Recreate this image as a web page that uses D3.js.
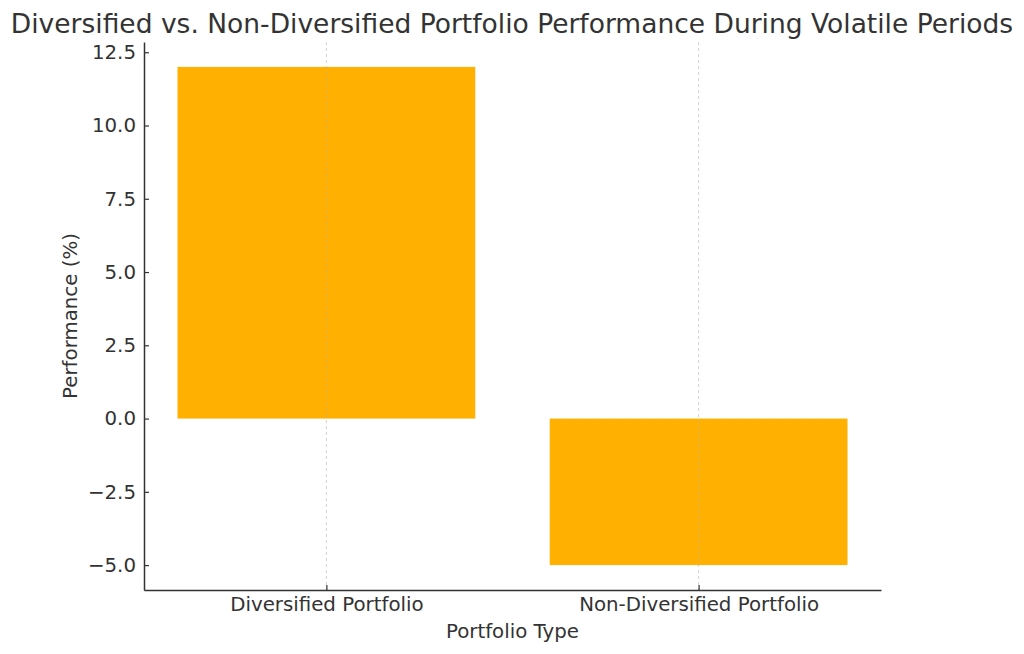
<!DOCTYPE html>
<html><head><meta charset="utf-8">
<script src="https://cdn.jsdelivr.net/npm/d3@7"></script>
<style>body{margin:0;background:#fff}svg{display:block}text{font-family:"DejaVu Sans",sans-serif;fill:#333}</style>
</head><body>
<svg id="c" width="1024" height="654"></svg>
<script>
const categories = ["Diversified Portfolio", "Non-Diversified Portfolio"];
const performance = [12, -5];
const yTicks = [-5, -2.5, 0, 2.5, 5, 7.5, 10, 12.5];
const title = "Diversified vs. Non-Diversified Portfolio Performance During Volatile Periods";
const xLabel = "Portfolio Type";
const yLabel = "Performance (%)";

const svg = d3.select("#c");
const L = 144, R = 881, T = 42, B = 590;
const axisColor = "#333";
const fs = 19.8;

const x = d3.scaleLinear().domain([-0.49, 1.49]).range([L, R]);
const y = d3.scaleLinear().domain([-5.85, 12.85]).range([B, T]);
const bw = 0.8;

svg.selectAll("rect.bar").data(performance).join("rect")
  .attr("class", "bar")
  .attr("x", (d, i) => x(i - bw / 2))
  .attr("width", (d, i) => x(i + bw / 2) - x(i - bw / 2))
  .attr("y", d => y(Math.max(0, d)))
  .attr("height", d => Math.abs(y(d) - y(0)))
  .attr("fill", "#FFB000");

svg.selectAll("line.grid").data(categories).join("line")
  .attr("x1", (d, i) => x(i)).attr("x2", (d, i) => x(i))
  .attr("y1", T).attr("y2", B)
  .attr("stroke", "#b0b0b0").attr("stroke-width", 0.8)
  .attr("stroke-dasharray", "3,3").attr("opacity", 0.7);

const yAxis = d3.axisLeft(y).tickValues(yTicks).tickSizeInner(-5).tickSizeOuter(0).tickPadding(8)
  .tickFormat(d => d3.format(".1f")(d).replace("-", "\u2212"));
const gy = svg.append("g").attr("transform", `translate(${L},0)`).call(yAxis);
gy.select(".domain").attr("stroke", axisColor).attr("stroke-width", 1.5);
gy.selectAll(".tick line").attr("stroke", axisColor).attr("stroke-width", 1.2);
gy.selectAll(".tick text").attr("font-size", fs).attr("fill", "#333").attr("font-family", "DejaVu Sans");

const xAxis = d3.axisBottom(x).tickValues([0, 1]).tickSizeInner(-5).tickSizeOuter(0).tickPadding(7)
  .tickFormat(i => categories[i]);
const gx = svg.append("g").attr("transform", `translate(0,${B})`).call(xAxis);
gx.select(".domain").attr("stroke", axisColor).attr("stroke-width", 1.5);
gx.selectAll(".tick line").attr("stroke", axisColor).attr("stroke-width", 1.2);
gx.selectAll(".tick text").attr("font-size", fs).attr("fill", "#333").attr("font-family", "DejaVu Sans");

svg.append("text").attr("x", 512).attr("y", 33).attr("text-anchor", "middle")
  .attr("font-size", 26.5).text(title);
svg.append("text").attr("x", (L + R) / 2).attr("y", 638).attr("text-anchor", "middle")
  .attr("font-size", fs).text(xLabel);
svg.append("text").attr("transform", `translate(77,${(T + B) / 2}) rotate(-90)`)
  .attr("text-anchor", "middle").attr("font-size", fs).text(yLabel);
</script>
</body></html>
